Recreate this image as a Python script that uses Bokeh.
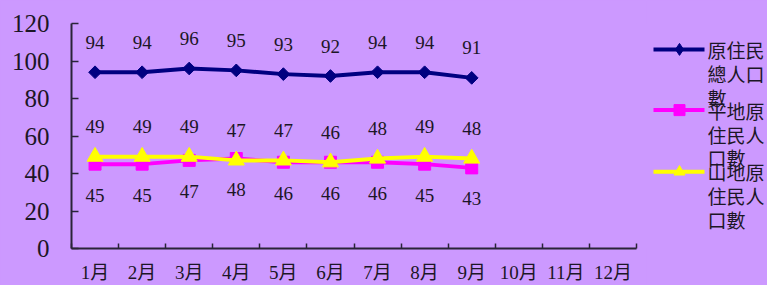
from bokeh.plotting import figure
from bokeh.models import Range1d, FixedTicker
from bokeh.layouts import row
from bokeh.core.properties import value
from bokeh.embed import file_html
from bokeh.resources import INLINE

# ---- data ----
months = ["1月", "2月", "3月", "4月", "5月", "6月", "7月", "8月", "9月", "10月", "11月", "12月"]
month_num = list(range(1, 13))
total = [94, 94, 96, 95, 93, 92, 94, 94, 91]
plain = [45, 45, 47, 48, 46, 46, 46, 45, 43]
mountain = [49, 49, 49, 47, 47, 46, 48, 49, 48]
series_names = ["原住民總人口數", "平地原住民人口數", "山地原住民人口數"]
y_ticks = [0, 20, 40, 60, 80, 100, 120]

BG = "#CC99FF"
SERIF = "'Liberation Serif', 'Noto Sans CJK TC'"
CJK = "'Noto Sans CJK TC'"
AXIS_COLOR = "#2a2438"
TEXT_COLOR = "#1c1626"
colors = ["#000080", "#FF00FF", "#FFFF00"]
markers = ["square", "square", "triangle"]
angles = [0.785398, 0.0, 0.0]
msizes = [9, 12, 16]

FRAME_TOP, FRAME_BOTTOM = 23, 249
MAIN_W, H = 646, 285

p = figure(width=MAIN_W, height=H, x_range=Range1d(0.5, 12.5), y_range=Range1d(0, 120),
           output_backend="svg", toolbar_location=None,
           min_border_left=71, min_border_right=10, min_border_top=FRAME_TOP,
           min_border_bottom=H - FRAME_BOTTOM,
           background_fill_color=BG, border_fill_color=BG, outline_line_color=None)
p.grid.visible = False

xa = p.xaxis[0]
xa.ticker = FixedTicker(ticks=month_num, minor_ticks=[m - 0.5 for m in month_num] + [month_num[-1] + 0.5])
xa.major_label_overrides = {m: lab for m, lab in zip(month_num, months)}
xa.major_tick_in = 0
xa.major_tick_out = 0
xa.minor_tick_in = 5
xa.minor_tick_out = 0
xa.minor_tick_line_color = AXIS_COLOR
xa.minor_tick_line_width = 1.5
xa.axis_line_color = AXIS_COLOR
xa.axis_line_width = 2
xa.major_label_standoff = 13
xa.major_label_text_font = SERIF
xa.major_label_text_font_size = "19px"
xa.major_label_text_color = TEXT_COLOR

ya = p.yaxis[0]
ya.ticker = FixedTicker(ticks=y_ticks, minor_ticks=[])
ya.major_tick_in = 7
ya.major_tick_out = 0
ya.minor_tick_in = 0
ya.minor_tick_out = 0
ya.major_tick_line_color = AXIS_COLOR
ya.major_tick_line_width = 1.5
ya.axis_line_color = AXIS_COLOR
ya.axis_line_width = 2
ya.major_label_standoff = 22
ya.major_label_text_font = SERIF
ya.major_label_text_font_size = "25px"
ya.major_label_text_color = TEXT_COLOR

all_series = [total, plain, mountain]
offsets = [-30, 31, -30]
for vals, col, mk, ang, ms in zip(all_series, colors, markers, angles, msizes):
    xs = month_num[:len(vals)]
    p.line(xs, vals, line_color=col, line_width=4)
    p.scatter(xs, vals, marker=mk, angle=ang, size=ms, fill_color=col, line_color=col)

for vals, off in zip(all_series, offsets):
    xs = month_num[:len(vals)]
    p.text(xs, vals, text=[str(v) for v in vals], y_offset=off,
           text_align="center", text_baseline="middle",
           text_font=value(SERIF), text_font_size="19px", text_color=TEXT_COLOR)

# ---- legend panel (its frame is aligned with the main frame: pixel rows 23..249) ----
LG_W = 767 - MAIN_W
lg = figure(width=LG_W, height=H, x_range=Range1d(MAIN_W, 767), y_range=Range1d(FRAME_BOTTOM, FRAME_TOP),
            x_axis_type=None, y_axis_type=None, output_backend="svg", toolbar_location=None,
            min_border_left=0, min_border_right=0, min_border_top=FRAME_TOP,
            min_border_bottom=H - FRAME_BOTTOM,
            background_fill_color=BG, border_fill_color=BG, outline_line_color=None)
lg.grid.visible = False
leg_y = [49, 110, 172]
leg_marker = ["diamond", "square", "triangle"]
leg_msize = [12, 11, 11]
for name, col, y0, mk, ms in zip(series_names, colors, leg_y, leg_marker, leg_msize):
    lg.line([653, 704], [y0, y0], line_color=col, line_width=4)
    lg.scatter([679], [y0], marker=mk, size=ms, fill_color=col, line_color=col)
    chunks = [name[i:i + 3] for i in range(0, len(name), 3)]
    lg.text([707] * len(chunks), [y0 + 24 * k for k in range(len(chunks))], text=chunks,
            text_align="left", text_baseline="middle",
            text_font=value(CJK), text_font_size="19px", text_color=TEXT_COLOR)

layout = row(p, lg, spacing=0)
html = file_html(layout, INLINE)
html = html.replace("<head>", "<head><style>html,body{background:#CC99FF;overflow:hidden}</style>", 1)
open("out.html", "w").write(html)
